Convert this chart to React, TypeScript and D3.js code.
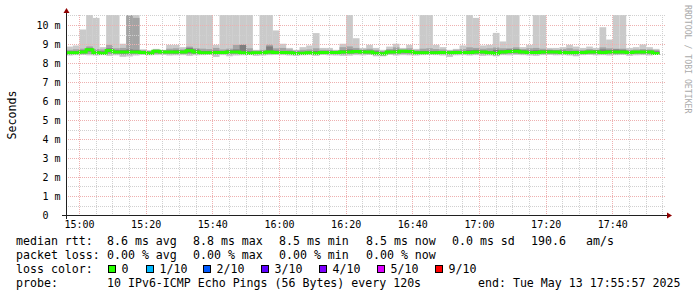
import React from 'react';
import * as d3 from 'd3';

// ---------- data ----------
const DATA_START = new Date(2025, 4, 13, 14, 56, 0);
const STEP_SEC = 120;
const VIEW_START = new Date(2025, 4, 13, 14, 55, 57);
const VIEW_END = new Date(2025, 4, 13, 17, 55, 57);

// smoke bands (ms), one value per 120 s step
const maxV = [
  8.89, 8.95, 9.79, 11, 10.40, 8.86, 11, 11, 9.04, 11, 11, 8.75, 8.70, 8.77, 8.72, 8.98, 8.98, 8.86,
  11, 11, 11, 11, 8.98, 11, 11, 11, 11, 11, 8.72, 11, 11, 9.74, 9.04, 8.82, 8.72, 8.86,
  8.95, 9.60, 8.82, 8.82, 8.72, 9.04, 11, 9.33, 8.82, 8.98, 8.82, 8.72, 8.89, 9.04, 8.82, 8.98, 8.77, 11,
  11, 8.98, 8.86, 8.72, 8.77, 8.95, 11, 10.40, 8.95, 8.98, 9.61, 9.16, 11, 11, 8.86, 8.98, 11, 11,
  8.82, 8.82, 8.86, 8.98, 8.89, 8.82, 8.89, 8.82, 9.91, 9.26, 11, 11, 8.82, 8.86, 9.00, 8.86, 8.77,
];
const up2 = [
  8.72, 8.75, 8.78, 8.90, 8.76, 8.74, 8.98, 8.80, 8.82, 11, 10.40, 8.70, 8.66, 8.72, 8.68, 8.78, 8.80, 8.74,
  8.89, 8.80, 8.78, 8.76, 8.82, 8.74, 8.78, 8.98, 9.00, 8.80, 8.68, 8.72, 9.00, 8.80, 8.82, 8.74, 8.68, 8.72,
  8.74, 8.80, 8.72, 8.72, 8.68, 8.86, 8.90, 8.82, 8.74, 8.78, 8.72, 8.66, 8.76, 8.85, 8.74, 8.80, 8.70, 8.78,
  8.80, 8.76, 8.74, 8.68, 8.72, 8.76, 8.85, 8.82, 8.78, 8.80, 8.84, 8.80, 8.80, 8.85, 8.76, 8.80, 8.82, 8.78,
  8.74, 8.72, 8.76, 8.80, 8.74, 8.72, 8.76, 8.72, 8.85, 8.80, 8.78, 8.78, 8.72, 8.74, 8.76, 8.74, 8.70,
];
const up3 = [
  8.64, 8.65, 8.70, 8.82, 8.66, 8.64, 8.80, 8.70, 8.70, 8.74, 8.72, 8.66, 8.62, 8.72, 8.68, 8.68, 8.70, 8.68,
  8.82, 8.74, 8.66, 8.66, 8.68, 8.66, 8.70, 8.74, 8.98, 8.64, 8.62, 8.66, 8.90, 8.68, 8.66, 8.64, 8.62, 8.62,
  8.64, 8.66, 8.66, 8.66, 8.64, 8.70, 8.74, 8.72, 8.70, 8.68, 8.64, 8.60, 8.68, 8.72, 8.72, 8.70, 8.64, 8.66,
  8.66, 8.66, 8.66, 8.64, 8.66, 8.66, 8.70, 8.72, 8.68, 8.66, 8.72, 8.70, 8.74, 8.76, 8.70, 8.68, 8.70, 8.70,
  8.70, 8.68, 8.68, 8.66, 8.66, 8.66, 8.68, 8.70, 8.74, 8.72, 8.74, 8.72, 8.66, 8.66, 8.68, 8.68, 8.64,
];
const lo3 = [
  8.50, 8.50, 8.54, 8.62, 8.49, 8.48, 8.58, 8.54, 8.52, 8.54, 8.54, 8.52, 8.48, 8.56, 8.54, 8.54, 8.53, 8.54,
  8.56, 8.52, 8.50, 8.50, 8.50, 8.52, 8.54, 8.54, 8.50, 8.48, 8.50, 8.50, 8.54, 8.52, 8.52, 8.50, 8.47, 8.48,
  8.50, 8.47, 8.52, 8.52, 8.52, 8.54, 8.54, 8.56, 8.54, 8.54, 8.48, 8.45, 8.54, 8.55, 8.58, 8.56, 8.50, 8.50,
  8.50, 8.50, 8.52, 8.50, 8.52, 8.52, 8.52, 8.54, 8.54, 8.50, 8.46, 8.54, 8.56, 8.58, 8.54, 8.52, 8.52, 8.54,
  8.55, 8.54, 8.52, 8.50, 8.52, 8.52, 8.54, 8.54, 8.52, 8.55, 8.54, 8.54, 8.52, 8.54, 8.54, 8.54, 8.50,
];
const lo2 = [
  8.46, 8.47, 8.48, 8.50, 8.46, 8.46, 8.48, 8.48, 8.44, 8.45, 8.48, 8.48, 8.46, 8.50, 8.49, 8.48, 8.48, 8.49,
  8.47, 8.48, 8.47, 8.48, 8.44, 8.48, 8.46, 8.48, 8.47, 8.46, 8.47, 8.47, 8.49, 8.49, 8.48, 8.47, 8.44, 8.46,
  8.47, 8.45, 8.48, 8.47, 8.46, 8.46, 8.48, 8.50, 8.49, 8.48, 8.44, 8.42, 8.49, 8.47, 8.50, 8.48, 8.46, 8.47,
  8.48, 8.47, 8.47, 8.44, 8.47, 8.48, 8.46, 8.48, 8.47, 8.46, 8.42, 8.48, 8.50, 8.50, 8.48, 8.47, 8.46, 8.48,
  8.49, 8.48, 8.47, 8.46, 8.44, 8.47, 8.49, 8.48, 8.47, 8.48, 8.47, 8.48, 8.46, 8.49, 8.48, 8.47, 8.46,
];
const minV = [
  8.42, 8.44, 8.45, 8.43, 8.42, 8.44, 8.40, 8.43, 8.35, 8.37, 8.42, 8.45, 8.43, 8.44, 8.45, 8.42, 8.43, 8.44,
  8.40, 8.43, 8.44, 8.45, 8.34, 8.44, 8.38, 8.42, 8.43, 8.44, 8.40, 8.42, 8.44, 8.45, 8.44, 8.42, 8.40, 8.43,
  8.44, 8.40, 8.45, 8.43, 8.42, 8.40, 8.41, 8.44, 8.43, 8.45, 8.38, 8.38, 8.45, 8.42, 8.44, 8.43, 8.42, 8.44,
  8.45, 8.44, 8.42, 8.34, 8.43, 8.44, 8.42, 8.44, 8.40, 8.42, 8.38, 8.44, 8.43, 8.45, 8.44, 8.42, 8.40, 8.44,
  8.45, 8.43, 8.44, 8.42, 8.38, 8.44, 8.45, 8.43, 8.44, 8.42, 8.44, 8.45, 8.40, 8.43, 8.44, 8.42, 8.45,
];
const median = [
  8.56, 8.56, 8.60, 8.72, 8.56, 8.54, 8.68, 8.60, 8.60, 8.60, 8.60, 8.58, 8.54, 8.65, 8.61, 8.60, 8.60, 8.60,
  8.67, 8.60, 8.56, 8.56, 8.58, 8.58, 8.60, 8.61, 8.56, 8.54, 8.56, 8.56, 8.60, 8.58, 8.58, 8.56, 8.53, 8.54,
  8.56, 8.54, 8.58, 8.58, 8.58, 8.60, 8.61, 8.63, 8.61, 8.60, 8.54, 8.51, 8.60, 8.61, 8.65, 8.63, 8.56, 8.56,
  8.56, 8.56, 8.58, 8.56, 8.58, 8.58, 8.58, 8.61, 8.60, 8.56, 8.53, 8.60, 8.63, 8.65, 8.61, 8.58, 8.58, 8.60,
  8.61, 8.60, 8.58, 8.56, 8.58, 8.58, 8.60, 8.60, 8.58, 8.61, 8.61, 8.61, 8.58, 8.60, 8.60, 8.60, 8.53,
];

const yTickValues = [1, 2, 3, 4, 5, 6, 7, 8, 9, 10];
const yTickLabels = ['1 m', '2 m', '3 m', '4 m', '5 m', '6 m', '7 m', '8 m', '9 m', '10 m'];
const xTickLabels = ['15:00', '15:20', '15:40', '16:00', '16:20', '16:40', '17:00', '17:20', '17:40'];

const lossLabels = ['0', '1/10', '2/10', '3/10', '4/10', '5/10', '9/10'];
const lossColors = ['#26ff00', '#00b8ff', '#0059ff', '#5e00ff', '#7e00ff', '#dd00ff', '#ff0000'];

// ---------- layout ----------
const W = 697, H = 297;
const PX0 = 66, PX1 = 666, PY0 = 215.5, PYTOP = 15;
const MONO = '"DejaVu Sans Mono", "Liberation Mono", monospace';

export default function App() {
  const x = d3.scaleTime().domain([VIEW_START, VIEW_END]).range([PX0, PX1]);
  const y = d3.scaleLinear().domain([0, 10]).range([PY0, 25.5]);
  const yc = (v: number) => Math.max(PYTOP, y(v));
  const t = (k: number) => new Date(DATA_START.getTime() + k * STEP_SEC * 1000);

  const bands: { lo: number[]; hi: number[]; color: string }[] = [
    { lo: minV, hi: maxV, color: '#cacaca' },
    { lo: lo2, hi: up2, color: '#a4a4a4' },
    { lo: lo3, hi: up3, color: '#7e7e7e' },
  ];

  const medPts: [number, number][] = median.map((m, k) => [x(t(k)), y(m)]);
  medPts.push([x(t(median.length)), y(median[median.length - 1])]);
  const medLine = d3.line().curve(d3.curveStepAfter)(medPts) || '';

  const minorX = d3.timeMinute.every(5)!.range(VIEW_START, VIEW_END);
  const majorXDates = xTickLabels.map((s) => {
    const [hh, mm] = s.split(':').map(Number);
    return new Date(2025, 4, 13, hh, mm, 0);
  });
  const minorY = d3.range(0.5, 10.6, 1);

  const crisp = (v: number) => Math.floor(v) + 0.5;

  const legendRow1 = [
    { x: 16, s: 'median rtt:' }, { x: 107, s: '8.6 ms avg' }, { x: 193, s: '8.8 ms max' },
    { x: 279, s: '8.5 ms min' }, { x: 366, s: '8.5 ms now' }, { x: 452, s: '0.0 ms sd' },
    { x: 531, s: '190.6' }, { x: 586, s: 'am/s' },
  ];
  const legendRow2 = [
    { x: 16, s: 'packet loss:' }, { x: 107, s: '0.00 % avg' }, { x: 193, s: '0.00 % max' },
    { x: 279, s: '0.00 % min' }, { x: 366, s: '0.00 % now' },
  ];
  const boxX = [108.5, 146.5, 203.5, 261.5, 319.5, 377.5, 435.5];

  return (
    <svg width={W} height={H} style={{ position: 'absolute', left: 0, top: 0, background: '#fff' }}
      fontFamily={MONO}>
      <rect x={0} y={0} width={W} height={H} fill="#ffffff" />
      {/* smoke */}
      {bands.map((b, bi) => (
        <g key={bi} fill={b.color}>
          {b.hi.map((hv, k) => {
            const x0 = x(t(k)), x1 = x(t(k + 1));
            const y0 = yc(hv), y1 = yc(b.lo[k]);
            return <rect key={k} x={x0} y={y0} width={x1 - x0 + 0.05} height={Math.max(0, y1 - y0)} />;
          })}
        </g>
      ))}
      {/* median */}
      <path d={medLine} fill="none" stroke={lossColors[0]} strokeWidth={3} />
      {/* grid */}
      <g strokeWidth={1} strokeDasharray="1,1" fill="none">
        {minorY.map((v, i) => (
          <line key={'my' + i} x1={PX0} x2={PX1} y1={crisp(y(v))} y2={crisp(y(v))} stroke="#d0d0d0" />
        ))}
        {minorX.filter((d) => d.getMinutes() % 20 !== 0).map((d, i) => (
          <line key={'mx' + i} x1={crisp(x(d))} x2={crisp(x(d))} y1={PYTOP} y2={PY0} stroke="#d0d0d0" />
        ))}
        {yTickValues.map((v, i) => (
          <line key={'My' + i} x1={PX0} x2={PX1} y1={crisp(y(v))} y2={crisp(y(v))} stroke="#eeb0b0" />
        ))}
        {majorXDates.map((d, i) => (
          <line key={'Mx' + i} x1={crisp(x(d))} x2={crisp(x(d))} y1={PYTOP} y2={PY0} stroke="#eeb0b0" />
        ))}
      </g>
      {/* axes */}
      <line x1={62} x2={669} y1={PY0} y2={PY0} stroke="#202020" strokeWidth={1} />
      <line x1={66.5} x2={66.5} y1={219} y2={11} stroke="#202020" strokeWidth={1} />
      <polygon points="667,212.5 672,215.5 667,218.5" fill="#900000" />
      <polygon points="63.5,13 66.5,8 69.5,13" fill="#900000" />
      {/* y tick labels */}
      <g fontSize={10} fill="#000" textAnchor="end">
        {yTickValues.map((v, i) => (
          <text key={i} x={60.5} y={y(v) + 3.5}>{yTickLabels[i]}</text>
        ))}
        <text x={48.5} y={y(0) + 3.5}>0</text>
      </g>
      {/* x tick labels */}
      <g fontSize={10} fill="#000" textAnchor="middle">
        {majorXDates.map((d, i) => (
          <text key={i} x={x(d)} y={227.5}>{xTickLabels[i]}</text>
        ))}
      </g>
      {/* axis title */}
      <text transform="translate(15.5,115) rotate(-90)" fontSize={11.6} textAnchor="middle" fill="#000">Seconds</text>
      {/* watermark */}
      <text transform="translate(685,5) rotate(90)" fontSize={8.2} fill="#aaaaaa">RRDTOOL / TOBI OETIKER</text>
      {/* legend */}
      <g fontSize={11.6} fill="#000" style={{ whiteSpace: 'pre' }}>
        {legendRow1.map((r, i) => <text key={'a' + i} x={r.x} y={245}>{r.s}</text>)}
        {legendRow2.map((r, i) => <text key={'b' + i} x={r.x} y={259}>{r.s}</text>)}
        <text x={16} y={273}>loss color:</text>
        {lossLabels.map((l, i) => (
          <g key={'c' + i}>
            <rect x={boxX[i]} y={265.5} width={7} height={7} fill={lossColors[i]} stroke="#000" strokeWidth={1} />
            <text x={boxX[i] + 13} y={273}>{l}</text>
          </g>
        ))}
        <text x={16} y={287}>probe:</text>
        <text x={107} y={287}>10 IPv6-ICMP Echo Pings (56 Bytes) every 120s</text>
        <text x={478} y={287}>end: Tue May 13 17:55:57 2025</text>
      </g>
    </svg>
  );
}
